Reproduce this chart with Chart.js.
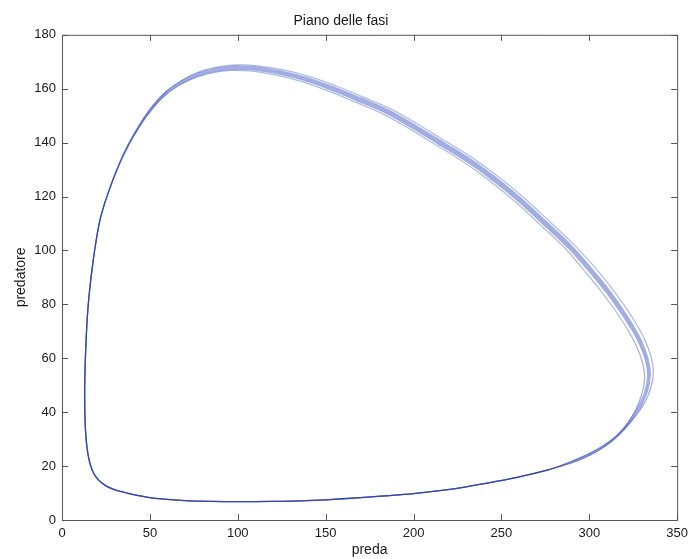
<!DOCTYPE html>
<html>
<head>
<meta charset="utf-8">
<title>Piano delle fasi</title>
<script src="https://cdn.jsdelivr.net/npm/chart.js@4.4.1/dist/chart.umd.min.js"></script>
<style>
  html, body { margin: 0; padding: 0; background: #fff; }
  canvas { display: block; }
</style>
</head>
<body>
<canvas id="phaseChart" width="694" height="559"></canvas>
<script>
// left side and bottom of the cycle, where successive orbits overlap
const leftBottomArc = [
    [24.5, 118], [21.5, 111], [19.4, 103.5], [17.6, 95.5], [16.0, 87], [14.7, 78],
    [13.8, 68], [13.2, 58], [12.9, 48], [13.0, 40], [13.4, 33], [14.2, 27],
    [15.5, 22], [17.2, 18.5], [19.5, 15.8], [22.5, 13.8], [26, 12.3], [31, 11],
    [37, 10], [45, 8.9], [55, 7.9], [70, 7.2], [85, 6.9], [100, 6.8],
    [120, 6.9], [135, 7.1], [150, 7.5], [170, 8.3], [185, 9], [200, 9.8],
    [215, 10.9], [230, 12.3], [247, 14.3], [262, 16.3], [277, 18.7]
];

// right side and top, one list per orbit (they spread apart here)
const orbitOuter = [
    [277, 18.7], [290, 21.8], [301, 25], [310, 28.5], [318, 32.5], [325, 37.5],
    [331, 43], [335, 49], [336.5, 55], [335, 61], [331.5, 67], [326.5, 73],
    [319.5, 80], [311, 87.5], [301.5, 95], [290, 103], [277, 111], [262, 120],
    [247, 128], [232, 135], [217, 141], [202, 147], [187, 152.5], [171, 157],
    [156, 161], [141, 164.5], [126, 167], [111, 168.5], [100, 168.8], [90, 168.2],
    [80, 166.7], [70, 163.8], [60, 159.3], [50, 152.3], [41.5, 143.5], [35, 135.5],
    [29.5, 127], [24.5, 118]
];
const orbitMiddle = [
    [277, 18.7], [289.5, 21.4], [300, 24.3], [309, 27.6], [316.5, 31.6], [323, 36.5],
    [328.5, 42], [332.5, 48], [334, 54], [332.5, 60], [329, 66], [324, 72],
    [317, 79], [308.5, 86.5], [299, 94], [288, 102], [275, 110], [260, 119],
    [245, 127], [230, 134], [215, 140], [200, 146], [185, 151.5], [169, 156],
    [154, 160], [139, 163.5], [124, 166], [109, 167.6], [98, 167.8], [88, 167.1],
    [78, 165.4], [68, 162.4], [58, 157.8], [49, 151], [41, 143], [34.7, 135.2],
    [29.3, 126.8], [24.5, 118]
];
const orbitInner = [
    [277, 18.7], [289, 21], [299, 23.6], [307.5, 26.7], [315, 30.6], [321.5, 35.5],
    [326.5, 41], [330, 47], [331.5, 53], [330, 59], [326.5, 65], [321.5, 71],
    [314.5, 78], [306, 85.5], [296.5, 93], [286, 101], [273, 109], [258, 118],
    [243, 126], [228, 133], [213, 139], [198, 145], [183, 150.5], [167, 155],
    [152, 159], [137, 162.5], [122, 165], [107, 166.6], [96, 166.8], [86, 166],
    [76, 164.2], [66, 161], [56.5, 156.3], [48, 149.7], [40.5, 142.3], [34.4, 134.7],
    [29.1, 126.5], [24.5, 118]
];

const xTickValues = [0, 50, 100, 150, 200, 250, 300, 350];
const yTickValues = [0, 20, 40, 60, 80, 100, 120, 140, 160, 180];

const FONT = "'Liberation Sans', Arial, Helvetica, sans-serif";
const TEXT_COLOR = '#1a1a1a';
const AXIS_COLOR = '#555555';

function orbit(upperArc) {
    return leftBottomArc.concat(upperArc.slice(1)).map(([x, y]) => ({ x, y }));
}

// box around the axes with inward tick marks on all four sides
const axesBox = {
    id: 'axesBox',
    afterDraw(chart) {
        const { ctx, chartArea: a, scales: { x, y } } = chart;
        const len = 6;
        ctx.save();
        ctx.strokeStyle = AXIS_COLOR;
        ctx.lineWidth = 1;
        ctx.beginPath();
        ctx.rect(a.left + 0.5, a.top + 0.5, a.right - a.left, a.bottom - a.top);
        x.ticks.forEach(t => {
            const px = Math.round(x.getPixelForValue(t.value)) + 0.5;
            ctx.moveTo(px, a.bottom); ctx.lineTo(px, a.bottom - len);
            ctx.moveTo(px, a.top); ctx.lineTo(px, a.top + len);
        });
        y.ticks.forEach(t => {
            const py = Math.round(y.getPixelForValue(t.value)) + 0.5;
            ctx.moveTo(a.left, py); ctx.lineTo(a.left + len, py);
            ctx.moveTo(a.right, py); ctx.lineTo(a.right - len, py);
        });
        ctx.stroke();
        ctx.restore();
    }
};

// 0..1 position along the spread-out upper/right arc, -1 elsewhere
const upperStart = leftBottomArc.length - 1;
function arcPos(ctx) {
    const i = ctx.p0DataIndex;
    if (i < upperStart) return -1;
    return (i + 0.5 - upperStart) / (orbitMiddle.length - 1);
}

const edgeStyle = {
    showLine: true,
    pointRadius: 0,
    borderWidth: 1.3,
    borderColor: 'rgba(40, 60, 165, 0.7)',
    tension: 0.35,
    fill: false,
    segment: {
        // edges fade out gradually where the orbits pull apart
        borderColor: ctx => {
            const t = arcPos(ctx);
            if (t < 0) return undefined;
            const spread = Math.sqrt(Math.sin(Math.PI * t));
            const alpha = 0.7 - 0.28 * spread;
            return `rgba(${Math.round(40 + 40 * spread)}, ${Math.round(60 + 40 * spread)}, ${Math.round(165 + 30 * spread)}, ${alpha.toFixed(3)})`;
        }
    }
};

// the middle orbit doubles as the pale band between the outer and inner ones
const bandStyle = {
    ...edgeStyle,
    borderColor: 'rgb(162, 174, 226)',
    borderCapStyle: 'round',
    segment: {
        borderWidth: ctx => {
            const t = arcPos(ctx);
            if (t < 0) return 1.2;
            return 1.2 + 4.2 * Math.sin(Math.PI * t);
        }
    }
};

new Chart(document.getElementById('phaseChart'), {
    type: 'scatter',
    data: {
        datasets: [
            { ...edgeStyle, data: orbit(orbitOuter) },
            { ...edgeStyle, data: orbit(orbitInner) },
            { ...bandStyle, data: orbit(orbitMiddle) }
        ]
    },
    options: {
        responsive: false,
        animation: false,
        layout: { padding: { left: 0, right: 12, top: 0, bottom: 0 } },
        plugins: {
            legend: { display: false },
            tooltip: { enabled: false },
            title: {
                display: true,
                text: 'Piano delle fasi',
                color: TEXT_COLOR,
                font: { family: FONT, size: 14, weight: 'normal' },
                padding: { top: 13, bottom: 5 }
            }
        },
        scales: {
            x: {
                type: 'linear',
                min: 0,
                max: 350,
                afterBuildTicks: s => { s.ticks = xTickValues.map(v => ({ value: v })); },
                afterFit: s => { s.height = 39; },
                grid: { display: false, drawTicks: false },
                border: { display: false },
                ticks: { padding: 6, color: TEXT_COLOR, maxRotation: 0, font: { family: FONT, size: 13 } },
                title: {
                    display: true,
                    text: 'preda',
                    color: TEXT_COLOR,
                    font: { family: FONT, size: 14 },
                    padding: { top: 0, bottom: 0 }
                }
            },
            y: {
                type: 'linear',
                min: 0,
                max: 180,
                afterBuildTicks: s => { s.ticks = yTickValues.map(v => ({ value: v })); },
                afterFit: s => { s.width = 62; },
                grid: { display: false, drawTicks: false },
                border: { display: false },
                ticks: { padding: 6, color: TEXT_COLOR, font: { family: FONT, size: 13 } },
                title: {
                    display: true,
                    text: 'predatore',
                    color: TEXT_COLOR,
                    font: { family: FONT, size: 14 },
                    padding: { top: 13, bottom: 0 }
                }
            }
        }
    },
    plugins: [axesBox]
});
</script>
</body>
</html>
